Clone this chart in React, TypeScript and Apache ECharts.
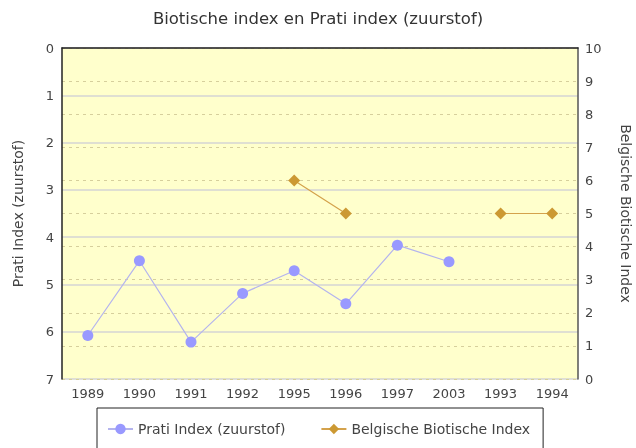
import React, { useEffect, useRef } from "react";
import * as echarts from "echarts";

const categories = ["1989", "1990", "1991", "1992", "1995", "1996", "1997", "2003", "1993", "1994"];
const pratiValues = [6.08, 4.5, 6.22, 5.19, 4.71, 5.41, 4.17, 4.52, null, null];
const biotischeValues = [null, null, null, null, 6, 5, null, null, 5, 5];

const FONT = "DejaVu Sans";
const TEXT = "#444";

export default function App() {
  const ref = useRef<HTMLDivElement>(null);
  useEffect(() => {
    if (!ref.current) return;
    const chart = echarts.init(ref.current, undefined, { renderer: "svg" });
    chart.setOption({
      animation: false,
      textStyle: { fontFamily: FONT },
      title: {
        text: "Biotische index en Prati index (zuurstof)",
        left: "center",
        top: 5,
        textStyle: { fontFamily: FONT, fontSize: 16.5, fontWeight: "normal", color: "#333" },
      },
      grid: {
        left: 62,
        right: 58,
        top: 48,
        bottom: 69,
        show: true,
        backgroundColor: "#ffffcc",
        borderWidth: 0,
        containLabel: false,
        outerBoundsMode: "none",
      },
      legend: {
        left: 97,
        top: 408,
        padding: [14, 13, 14, 10],
        itemGap: 35,
        itemWidth: 25,
        itemHeight: 13,
        borderColor: "#222",
        borderWidth: 1,
        textStyle: { fontFamily: FONT, fontSize: 14, color: TEXT },
        data: ["Prati Index (zuurstof)", "Belgische Biotische Index"],
      },
      xAxis: {
        type: "category",
        data: categories,
        boundaryGap: true,
        axisLine: { lineStyle: { color: "#222", width: 1.5 } },
        axisTick: { show: false },
        axisLabel: { fontFamily: FONT, fontSize: 13, color: TEXT, margin: 8 },
        splitLine: { show: false },
      },
      yAxis: [
        {
          type: "value",
          inverse: true,
          min: 0,
          max: 7,
          interval: 1,
          name: "Prati Index (zuurstof)",
          nameLocation: "middle",
          nameGap: 37,
          nameTextStyle: { fontFamily: FONT, fontSize: 14, color: TEXT },
          axisLine: { show: true, lineStyle: { color: "#222", width: 1.5 } },
          axisTick: { show: false },
          axisLabel: { fontFamily: FONT, fontSize: 13, color: TEXT, margin: 8 },
          splitLine: { show: true, lineStyle: { color: "#d4d4d4", width: 1.5 } },
        },
        {
          type: "value",
          min: 0,
          max: 10,
          interval: 1,
          position: "right",
          name: "Belgische Biotische Index",
          nameLocation: "middle",
          nameRotate: -90,
          nameGap: 41,
          nameTextStyle: { fontFamily: FONT, fontSize: 14, color: TEXT },
          axisLine: { show: true, lineStyle: { color: "#555", width: 1.5 } },
          axisTick: { show: false },
          axisLabel: { fontFamily: FONT, fontSize: 13, color: TEXT, margin: 7 },
          splitLine: { show: true, lineStyle: { color: "#d6cf9c", width: 1, type: [3, 4] } },
        },
      ],
      series: [
        {
          name: "Prati Index (zuurstof)",
          type: "line",
          yAxisIndex: 0,
          data: pratiValues,
          symbol: "circle",
          symbolSize: 11,
          itemStyle: { color: "#9999ff" },
          lineStyle: { color: "#b4b4ee", width: 1.2 },
          connectNulls: false,
        },
        {
          name: "Belgische Biotische Index",
          type: "line",
          yAxisIndex: 1,
          data: biotischeValues,
          symbol: "diamond",
          symbolSize: 12,
          itemStyle: { color: "#cc9933" },
          lineStyle: { color: "#d4a24c", width: 1.2 },
          connectNulls: false,
        },
      ],
    });
    return () => chart.dispose();
  }, []);
  return (
    <div style={{ position: "fixed", left: 0, top: 0, width: 636, height: 448 }}>
      <div ref={ref} style={{ width: 636, height: 448 }} />
    </div>
  );
}
